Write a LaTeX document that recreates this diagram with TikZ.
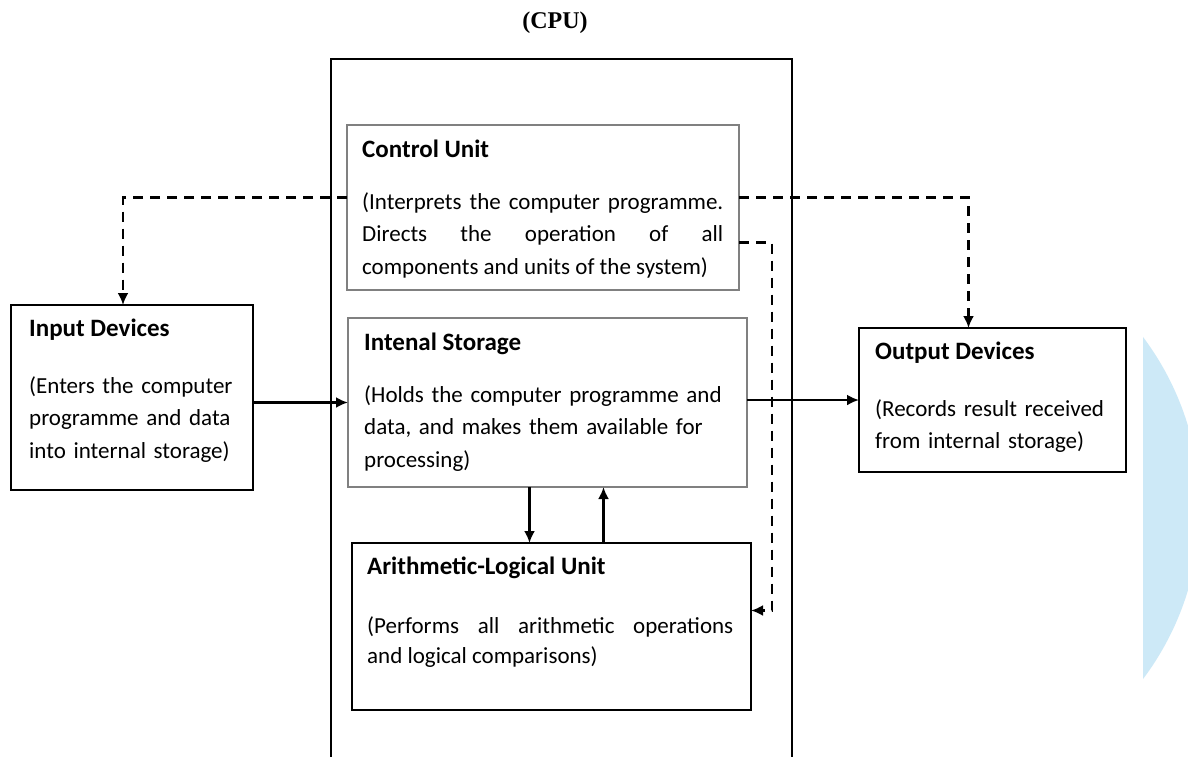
\documentclass[tikz,border=0pt]{standalone}
\usepackage{fontspec}
\setmainfont{Carlito}
\newfontfamily\serifcpu{Liberation Serif}
\usepackage{tikz}
\usetikzlibrary{arrows.meta}

\definecolor{wmblue}{HTML}{CDE9F7}

\begin{document}
\begin{tikzpicture}[x=1pt, y=-1pt, >={Latex[length=12pt,width=11pt]},
	box/.style={draw=black, line width=2.2pt, inner sep=0pt, outer sep=0pt, anchor=north west},
	greybox/.style={box, draw=black!50, line width=2.6pt},
	head/.style={anchor=base west, inner sep=0pt, font=\fontsize{25}{32}\selectfont\bfseries},
	txt/.style={anchor=base west, inner sep=0pt, align=left, font=\fontsize{23}{32.5}\selectfont},
	jtxt/.style={txt, align=justify},
	flow/.style={->, line width=2.6pt},
	ctrl/.style={->, line width=2.6pt, dash pattern=on 10pt off 7pt}]

	\clip (0,0) rectangle (1188,756);
	\fill[white] (0,0) rectangle (1188,756);

	% watermark rest at the right margin
	\begin{scope}
		\clip (1143,0) rectangle (1188,756);
		\fill[wmblue] (915,508) circle (285);
	\end{scope}

	\node[font=\serifcpu\bfseries\fontsize{24}{28}\selectfont, anchor=base, inner sep=0pt] (cputitle) at (555,28) {(CPU)};

	\node[box, minimum width=461pt, minimum height=760pt, line width=1.8pt] (cpu) at (331,59) {};
	\node[greybox, minimum width=392pt, minimum height=165pt] (cu) at (347,125) {};
	\node[greybox, minimum width=399pt, minimum height=169pt] (st) at (348,318) {};
	\node[box, minimum width=399pt, minimum height=167pt] (alu) at (352,543) {};
	\node[box, minimum width=242pt, minimum height=185pt] (in) at (11,305) {};
	\node[box, minimum width=267pt, minimum height=144pt] (out) at (859,328) {};

	\node[head] (cuhead) at (362,157) {Control Unit};
	\node[jtxt, text width=361pt] (cutxt) at (362,209) {(Interprets the computer programme.\linebreak Directs the operation of all\linebreak components and units of the system)};

	\node[head] (sthead) at (364,350) {Intenal Storage};
	\node[txt, text width=380pt] (sttxt) at (364,402) {(Holds the computer programme and\\ data, and makes them available for\\ processing)};

	\node[head] (aluhead) at (367,574) {Arithmetic-Logical Unit};
	\node[jtxt, text width=366pt, font=\fontsize{23}{30}\selectfont] (alutxt) at (367,633) {(Performs all arithmetic operations\linebreak and logical comparisons)};

	\node[head] (inhead) at (29,336) {Input Devices};
	\node[txt, text width=222pt] (intxt) at (29,393) {(Enters the computer\\ programme and data\\ into internal storage)};

	\node[head] (outhead) at (875,359) {Output Devices};
	\node[txt, text width=245pt] (outtxt) at (875,416) {(Records result received\\ from internal storage)};

	% Datenfluss
	\draw[flow] (in.east |- st.west) -- (st.west);
	\draw[flow] (st.east |- out.west) -- (out.west);
	\draw[flow] ([xshift=-18pt]st.south) -- ([xshift=-18pt]st.south |- alu.north);
	\draw[flow] ([xshift=56pt]st.south |- alu.north) -- ([xshift=56pt]st.south);

	% Steuersignale
	\draw[ctrl] ([yshift=10pt]cu.west) -| ([xshift=-9pt]in.north);
	\draw[ctrl] ([yshift=10pt]cu.east) -| ([xshift=-24pt]out.north);
	\draw[ctrl] ([yshift=-35pt]cu.east) -- ++(33,0) |- ([yshift=16pt]alu.east);
\end{tikzpicture}
\end{document}
